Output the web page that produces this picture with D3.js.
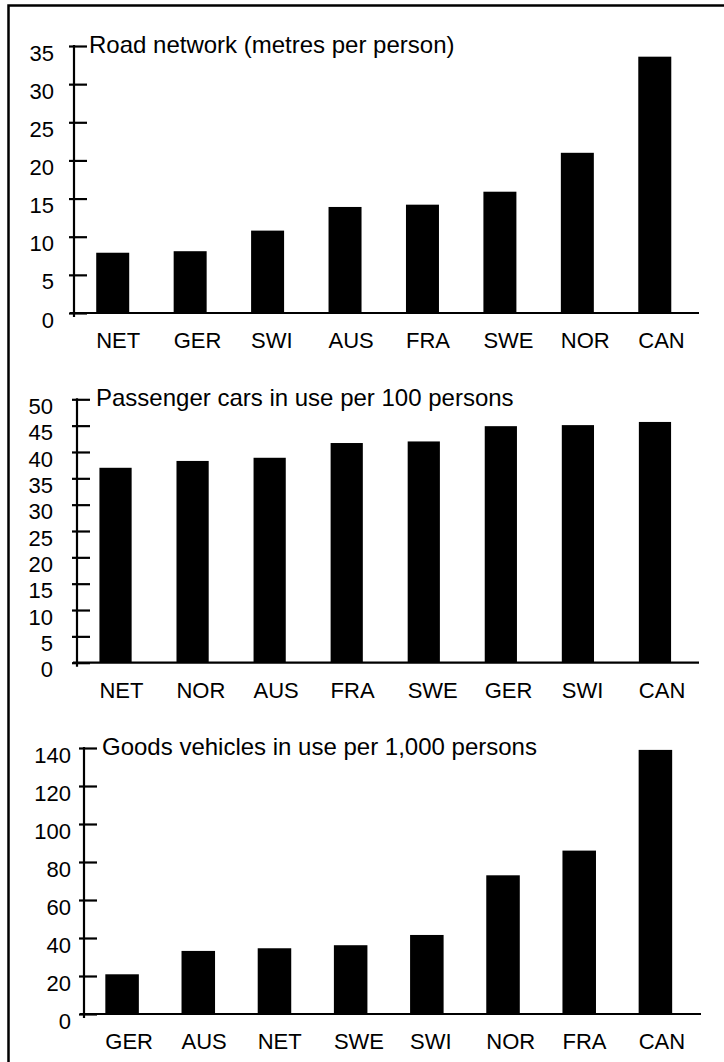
<!DOCTYPE html>
<html>
<head>
<meta charset="utf-8">
<script src="https://cdn.jsdelivr.net/npm/d3@7"></script>
<style>
body { margin: 0; background: #fff; }
svg text { font-family: "Liberation Sans", Arial, sans-serif; fill: #000; }
</style>
</head>
<body>
<script>
// data
var roadCountries = ["NET", "GER", "SWI", "AUS", "FRA", "SWE", "NOR", "CAN"];
var roadValues = [7.9, 8.1, 10.8, 13.9, 14.2, 15.9, 21.0, 33.6];
var roadTicks = [0, 5, 10, 15, 20, 25, 30, 35];

var carCountries = ["NET", "NOR", "AUS", "FRA", "SWE", "GER", "SWI", "CAN"];
var carValues = [37.0, 38.3, 38.9, 41.7, 42.0, 44.9, 45.1, 45.7];
var carTicks = [0, 5, 10, 15, 20, 25, 30, 35, 40, 45, 50];

var goodsCountries = ["GER", "AUS", "NET", "SWE", "SWI", "NOR", "FRA", "CAN"];
var goodsValues = [20.9, 33.2, 34.6, 36.2, 41.6, 73, 86, 139];
var goodsTicks = [0, 20, 40, 60, 80, 100, 120, 140];

var titles = [
	"Road network (metres per person)",
	"Passenger cars in use per 100 persons",
	"Goods vehicles in use per 1,000 persons"
];

var width = 724, height = 1062;

var svg = d3.select("body").append("svg")
	.attr("width", width)
	.attr("height", height);

// outer frame (right and bottom edges fall outside the picture)
svg.append("rect")
	.attr("x", 8.5).attr("y", 5.5)
	.attr("width", 800).attr("height", 1100)
	.attr("fill", "none")
	.attr("stroke", "#000")
	.attr("stroke-width", 2.5);

function panel(cfg) {
	var g = svg.append("g");

	var x = d3.scaleBand()
		.domain(cfg.cats)
		.range([cfg.axisX, 693.5])
		.paddingInner(cfg.pad)
		.paddingOuter(cfg.pad / 2);

	var y = d3.scaleLinear()
		.domain([0, d3.max(cfg.ticks)])
		.range([cfg.base, cfg.top]);

	g.selectAll(".bar")
		.data(cfg.vals)
		.enter().append("rect")
		.attr("class", "bar")
		.attr("x", function(d, i) { return x(cfg.cats[i]); })
		.attr("width", x.bandwidth())
		.attr("y", function(d) { return y(d); })
		.attr("height", function(d) { return cfg.base - y(d); })
		.attr("fill", "#000");

	// baseline
	g.append("line")
		.attr("x1", cfg.axisX - 4).attr("x2", cfg.lineEnd)
		.attr("y1", cfg.base).attr("y2", cfg.base)
		.attr("stroke", "#000").attr("stroke-width", 2.2);

	// y axis
	var ax = g.append("g")
		.attr("transform", "translate(" + cfg.axisX + ",0)")
		.call(d3.axisLeft(y).tickValues(cfg.ticks).tickSize(5).tickPadding(cfg.labelGap));
	ax.select(".domain").remove();
	ax.selectAll(".tick line")
		.attr("x1", -5).attr("x2", 13)
		.attr("stroke", "#000").attr("stroke-width", 2.2);
	ax.selectAll(".tick text")
		.attr("dy", "0.64em")
		.style("font-size", "22px")
		.attr("fill", "#000");
	ax.attr("font-family", null).attr("font-size", null);

	g.append("line")
		.attr("x1", cfg.axisX).attr("x2", cfg.axisX)
		.attr("y1", cfg.top - 1).attr("y2", cfg.base + 4)
		.attr("stroke", "#000").attr("stroke-width", 2.2);

	// category labels, left aligned on the bars
	g.selectAll(".cat")
		.data(cfg.cats)
		.enter().append("text")
		.attr("class", "cat")
		.attr("x", function(d) { return x(d); })
		.attr("y", cfg.base + 35)
		.style("font-size", "22px")
		.text(function(d) { return d; });

	g.append("text")
		.attr("x", cfg.titleX)
		.attr("y", cfg.top + 7)
		.style("font-size", "24px")
		.text(cfg.title);
}

panel({
	cats: roadCountries, vals: roadValues, ticks: roadTicks,
	axisX: 74, base: 313, top: 46, pad: 0.574, lineEnd: 699,
	labelGap: 15, titleX: 89, title: titles[0]
});

panel({
	cats: carCountries, vals: carValues, ticks: carTicks,
	axisX: 77, base: 662.7, top: 399.3, pad: 0.582, lineEnd: 699,
	labelGap: 19, titleX: 96, title: titles[1]
});

panel({
	cats: goodsCountries, vals: goodsValues, ticks: goodsTicks,
	axisX: 84, base: 1014, top: 748, pad: 0.56, lineEnd: 701,
	labelGap: 8, titleX: 102, title: titles[2]
});
</script>
</body>
</html>
